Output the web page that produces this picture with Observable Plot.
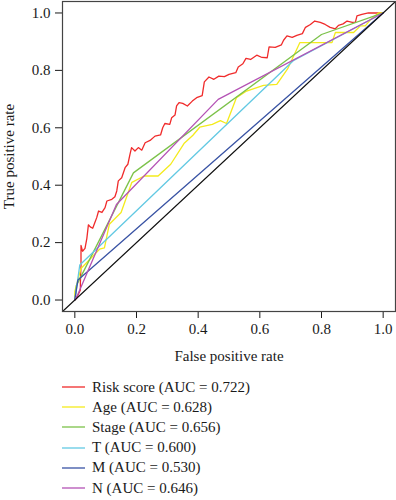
<!DOCTYPE html>
<html>
<head>
<meta charset="utf-8">
<script src="https://cdn.jsdelivr.net/npm/d3@7"></script>
<script src="https://cdn.jsdelivr.net/npm/@observablehq/plot@0.6"></script>
<style>
  body { margin: 0; background: white; font-family: "Liberation Serif", serif; }
  #legend { margin-top: 5px; padding-left: 62px; }
  .row { display: flex; align-items: center; height: 20.2px; font-size: 15px; color: #1a1a1a; }
  .row svg { margin-right: 7px; }
</style>
</head>
<body>
<div id="chart"></div>
<div id="legend"></div>
<script>
const seriesNames = ["Risk score", "Age", "Stage", "T", "M", "N"];
const seriesAUC = ["0.722", "0.628", "0.656", "0.600", "0.530", "0.646"];
const seriesColors = ["#f02b2b", "#f4eb1c", "#7cc24a", "#62c9e3", "#3953a4", "#b452b5"];
const axisLimits = [-0.04, 1.04];
const tickValues = [0, 0.2, 0.4, 0.6, 0.8, 1.0];

const riskFpr = [0, 0.005, 0.018, 0.018, 0.02, 0.02, 0.025, 0.033, 0.039, 0.044, 0.05, 0.058, 0.065, 0.071, 0.077, 0.088, 0.098, 0.104, 0.12, 0.13, 0.136, 0.141, 0.152, 0.163, 0.172, 0.179, 0.184, 0.195, 0.206, 0.217, 0.228, 0.244, 0.26, 0.278, 0.285, 0.292, 0.308, 0.314, 0.325, 0.33, 0.338, 0.35, 0.365, 0.381, 0.395, 0.413, 0.42, 0.435, 0.451, 0.467, 0.485, 0.5, 0.522, 0.53, 0.545, 0.555, 0.57, 0.59, 0.607, 0.624, 0.63, 0.65, 0.67, 0.677, 0.688, 0.705, 0.72, 0.738, 0.748, 0.764, 0.778, 0.796, 0.812, 0.828, 0.845, 0.855, 0.87, 0.883, 0.9, 0.91, 0.915, 0.931, 0.952, 1];
const riskTpr = [0, 0.005, 0.035, 0.06, 0.12, 0.19, 0.17, 0.18, 0.215, 0.262, 0.255, 0.25, 0.27, 0.287, 0.31, 0.305, 0.322, 0.345, 0.351, 0.36, 0.38, 0.415, 0.426, 0.461, 0.473, 0.508, 0.531, 0.519, 0.531, 0.522, 0.548, 0.556, 0.571, 0.575, 0.6, 0.615, 0.612, 0.635, 0.645, 0.676, 0.688, 0.685, 0.676, 0.693, 0.705, 0.712, 0.76, 0.777, 0.769, 0.78, 0.778, 0.786, 0.792, 0.812, 0.823, 0.842, 0.838, 0.853, 0.845, 0.844, 0.882, 0.88, 0.889, 0.905, 0.92, 0.915, 0.922, 0.928, 0.95, 0.96, 0.972, 0.967, 0.96, 0.95, 0.945, 0.957, 0.962, 0.972, 0.967, 0.968, 0.99, 0.995, 1, 1];

const ageFpr = [0, 0, 0.02, 0.08, 0.096, 0.112, 0.15, 0.165, 0.185, 0.225, 0.27, 0.311, 0.354, 0.383, 0.405, 0.446, 0.472, 0.492, 0.524, 0.557, 0.612, 0.655, 0.69, 0.73, 0.834, 0.845, 0.904, 0.926, 0.942, 0.96, 0.985, 1];
const ageTpr = [0, 0.03, 0.11, 0.177, 0.182, 0.264, 0.305, 0.35, 0.41, 0.432, 0.432, 0.473, 0.545, 0.574, 0.602, 0.612, 0.625, 0.615, 0.705, 0.728, 0.748, 0.751, 0.805, 0.897, 0.897, 0.932, 0.932, 0.955, 0.955, 0.978, 1, 1];

const stageFpr = [0, 0.005, 0.19, 0.8, 1];
const stageTpr = [0, 0.05, 0.443, 0.925, 1];

const tFpr = [0, 0.016, 0.71, 1];
const tTpr = [0, 0.122, 0.835, 1];

const mFpr = [0, 0.01, 1];
const mTpr = [0, 0.07, 1];

const nFpr = [0, 0.01, 0.135, 0.465, 1];
const nTpr = [0, 0.02, 0.333, 0.699, 1];

const allFpr = [riskFpr, ageFpr, stageFpr, tFpr, mFpr, nFpr];
const allTpr = [riskTpr, ageTpr, stageTpr, tTpr, mTpr, nTpr];

const rows = [];
seriesNames.forEach((name, i) => {
  allFpr[i].forEach((f, j) => rows.push({series: name, fpr: f, tpr: allTpr[i][j]}));
});
const diag = axisLimits.map(v => ({fpr: v, tpr: v}));

const chart = Plot.plot({
  width: 396,
  height: 372,
  marginLeft: 62,
  marginRight: 1,
  marginTop: 1,
  marginBottom: 61,
  style: {fontFamily: "'Liberation Serif', serif", fontSize: "15px", color: "#1a1a1a", background: "white", overflow: "visible"},
  x: {domain: axisLimits, ticks: tickValues, tickFormat: d3.format(".1f"), label: "False positive rate", labelArrow: false, labelAnchor: "center", labelOffset: 49, tickSize: 7, tickPadding: 5},
  y: {domain: axisLimits, ticks: tickValues, tickFormat: d3.format(".1f"), label: "True positive rate", labelArrow: false, labelAnchor: "center", labelOffset: 59, tickSize: 7, tickPadding: 5},
  color: {domain: seriesNames, range: seriesColors},
  marks: [
    Plot.line(rows, {x: "fpr", y: "tpr", z: "series", stroke: "series", strokeWidth: 1.3}),
    Plot.line(diag, {x: "fpr", y: "tpr", stroke: "#111", strokeWidth: 1.1}),
    Plot.frame({stroke: "#444", strokeWidth: 1.2})
  ]
});
document.getElementById("chart").appendChild(chart);

const legend = document.getElementById("legend");
seriesNames.forEach((name, i) => {
  const row = document.createElement("div");
  row.className = "row";
  row.innerHTML = `<svg width="23" height="4"><line x1="0" x2="23" y1="2" y2="2" stroke="${seriesColors[i]}" stroke-width="1.3"/></svg><span>${name} (AUC = ${seriesAUC[i]})</span>`;
  legend.appendChild(row);
});
</script>
</body>
</html>
